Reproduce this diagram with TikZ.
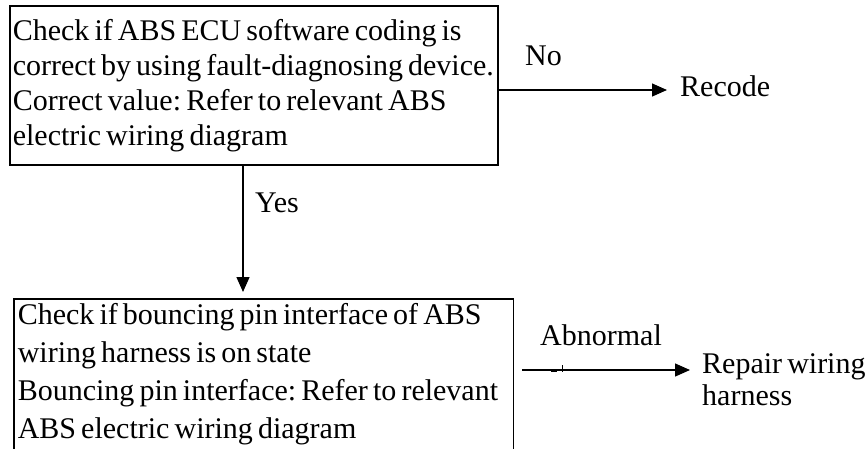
\documentclass[tikz,border=0pt]{standalone}
\usepackage{fontspec}
\setmainfont[WordSpace=0.68]{Liberation Serif}
\usetikzlibrary{arrows.meta,calc}
\frenchspacing
\hyphenpenalty=10000

\tikzset{
  chkbox/.style={draw, line width=1.6pt, anchor=north west, align=flush left, inner xsep=3pt, font=\fontsize{30}{35}\selectfont},
  flow/.style={line width=1.3pt, -{Triangle[length=15pt,width=13pt]}},
  lbl/.style={anchor=base west, inner sep=0pt, align=left, font=\fontsize{30}{32}\selectfont}
}

\begin{document}
\begin{tikzpicture}[x=1pt,y=1pt,yscale=-1,xscale=1]
\useasboundingbox (0,0) rectangle (868,448);

% Check box (ECU coding)
\node [chkbox, text width=482pt, minimum height=159pt] (ecu) at (9,5) {Check if ABS ECU software coding is\\correct by using fault-diagnosing device.\\Correct value: Refer to relevant ABS\\electric wiring diagram};

% Check box (bouncing pin), bottom edge runs off the page
\node [chkbox, draw=none, text width=492pt, inner ysep=3.5pt, font=\fontsize{30}{38}\selectfont] (pin) at (14,299) {Check if bouncing pin interface of ABS\\wiring harness is on state\\Bouncing pin interface: Refer to relevant\\ABS electric wiring diagram};
\draw [line width=1.6pt] ($(pin.south west)+(0,10)$) |- (pin.north east) -- ($(pin.south east)+(0,10)$);

% Text Node
\node [lbl] (no) at (525,65) {No};
% Text Node
\node [lbl] (recode) at (680,96) {Recode};
% Text Node
\node [lbl] (yes) at (255,212) {Yes};
% Text Node
\node [lbl] (abn) at (540,345) {Abnormal};
% Text Node
\node [lbl] (repair) at (702,405) {Repair wiring\\harness};

\coordinate (noend) at (667,90);
\coordinate (yesend) at (243,292);
\coordinate (abn0) at (522,370);
\coordinate (abn1) at (690,370);

%Straight Lines
\draw [flow] (ecu.east |- noend) -- (noend);
\draw [flow] (ecu.south -| yesend) -- (yesend);
\draw [flow] (abn0) -- (abn1);
% small tick on the abnormal line
\fill (551,368.5) rectangle (557,372);
\draw [line width=1pt] (562,365) -- (562,372);

\end{tikzpicture}
\end{document}
